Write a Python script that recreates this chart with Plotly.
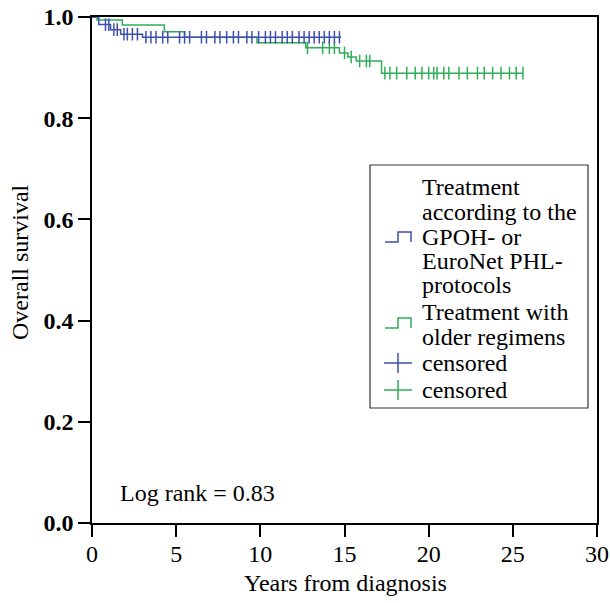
import plotly.graph_objects as go
import numpy as np

# ---- data ----
blue_times = [0.0, 0.4, 1.1, 1.7, 3.0]
blue_surv = [1.0, 0.985, 0.975, 0.966, 0.960]
blue_end = 14.8
blue_censor = [0.8, 1.0, 1.3, 1.5, 1.9, 2.1, 2.4, 2.7, 3.2, 3.5, 3.8, 4.2, 4.5, 5.2, 5.5,
               5.8, 6.5, 6.8, 7.3, 7.6, 8.0, 8.4, 8.7, 9.2, 9.5, 9.9, 10.3, 10.6, 10.9,
               11.3, 11.6, 11.9, 12.3, 12.6, 12.9, 13.2, 13.5, 13.8, 14.1, 14.4, 14.7]

green_times = [0.0, 0.3, 1.8, 4.3, 5.5, 9.8, 12.7, 14.7, 15.2, 15.7, 17.2]
green_surv = [1.0, 0.994, 0.984, 0.971, 0.960, 0.949, 0.939, 0.929, 0.921, 0.913, 0.889]
green_end = 25.6
green_censor = [12.8, 13.7, 14.1, 14.4, 15.0, 15.4, 15.9, 16.3, 16.5, 17.4, 17.7, 18.1, 18.7,
                19.2, 19.6, 20.0, 20.3, 20.5, 20.9, 21.2, 21.8, 22.3, 22.9, 23.3, 23.8,
                24.3, 24.8, 25.2, 25.6]

x_ticks = [0, 5, 10, 15, 20, 25, 30]
y_ticks = [0.0, 0.2, 0.4, 0.6, 0.8, 1.0]
y_tick_labels = ["0.0", "0.2", "0.4", "0.6", "0.8", "1.0"]

legend_lines_1 = ["Treatment", "according to the", "GPOH- or", "EuroNet PHL-", "protocols"]
legend_lines_2 = ["Treatment with", "older regimens"]
censor_label = "censored"
log_rank_text = "Log rank = 0.83"

BLUE = "#3e4fae"
GREEN = "#2fae55"
FONT = "Liberation Serif"
FS = 24

def step_xy(times, surv, end):
    return list(times) + [end], list(surv) + [surv[-1]]

def surv_at(times, surv, t):
    idx = np.searchsorted(times, t, side="right") - 1
    return surv[idx]

fig = go.Figure()
bx, by = step_xy(blue_times, blue_surv, blue_end)
gx, gy = step_xy(green_times, green_surv, green_end)
fig.add_trace(go.Scatter(x=gx, y=gy, mode="lines", line=dict(color=GREEN, width=1.5, shape="hv"),
                         showlegend=False, hoverinfo="skip"))
fig.add_trace(go.Scatter(x=green_censor, y=[surv_at(green_times, green_surv, t) for t in green_censor],
                         mode="markers", marker=dict(symbol="line-ns-open", size=9, color=GREEN,
                                                     line=dict(color=GREEN, width=1.5)),
                         showlegend=False))
fig.add_trace(go.Scatter(x=bx, y=by, mode="lines", line=dict(color=BLUE, width=1.5, shape="hv"),
                         showlegend=False, hoverinfo="skip"))
fig.add_trace(go.Scatter(x=blue_censor, y=[surv_at(blue_times, blue_surv, t) for t in blue_censor],
                         mode="markers", marker=dict(symbol="line-ns-open", size=9, color=BLUE,
                                                     line=dict(color=BLUE, width=1.5)),
                         showlegend=False))

L, R, T, B = 92, 13, 17, 80
W, H = 610, 603
PW, PH = W - L - R, H - T - B

def px(x):
    return (x - L) / PW

def py(y):
    return (H - B - y) / PH

shapes = []
annotations = []
# legend box
shapes.append(dict(type="rect", xref="paper", yref="paper", x0=px(370), x1=px(588), y0=py(408), y1=py(165),
                   line=dict(color="#333333", width=1.2), fillcolor="white", layer="above"))
text_y = [187, 212, 237, 261, 285, 312, 337, 363, 390]
all_lines = legend_lines_1 + legend_lines_2 + [censor_label, censor_label]
for yy, txt in zip(text_y, all_lines):
    annotations.append(dict(xref="paper", yref="paper", x=px(420), y=py(yy), text=txt, showarrow=False,
                            xanchor="left", yanchor="middle", font=dict(family=FONT, size=FS, color="black")))

def step_glyph(yc, color):
    x0, x1, x2 = 385, 398, 411
    lo, hi = yc + 5, yc - 5
    path = f"M {px(x0)},{py(lo)} L {px(x1)},{py(lo)} L {px(x1)},{py(hi)} L {px(x2)},{py(hi)} L {px(x2)},{py(lo)}"
    return dict(type="path", xref="paper", yref="paper", path=path, line=dict(color=color, width=1.5), layer="above")

shapes.append(step_glyph(237, BLUE))
shapes.append(step_glyph(323, GREEN))
for yc, col in [(363, BLUE), (390, GREEN)]:
    shapes.append(dict(type="line", xref="paper", yref="paper", x0=px(384), x1=px(412), y0=py(yc), y1=py(yc),
                       line=dict(color=col, width=1.5), layer="above"))
    shapes.append(dict(type="line", xref="paper", yref="paper", x0=px(398), x1=px(398), y0=py(yc - 10), y1=py(yc + 10),
                       line=dict(color=col, width=1.5), layer="above"))

annotations.append(dict(xref="paper", yref="paper", x=px(118), y=py(493), text=log_rank_text, showarrow=False,
                        xanchor="left", yanchor="middle", font=dict(family=FONT, size=FS, color="black")))
annotations.append(dict(xref="paper", yref="paper", x=px(345), y=py(583), text="Years from diagnosis",
                        showarrow=False, xanchor="center", yanchor="middle",
                        font=dict(family=FONT, size=FS, color="black")))
annotations.append(dict(xref="paper", yref="paper", x=px(20), y=py(262), text="Overall survival",
                        showarrow=False, textangle=-90, xanchor="center", yanchor="middle",
                        font=dict(family=FONT, size=FS, color="black")))

fig.update_layout(
    width=W, height=H,
    margin=dict(l=L, r=R, t=T, b=B, autoexpand=False),
    plot_bgcolor="white", paper_bgcolor="white",
    shapes=shapes, annotations=annotations,
    showlegend=False,
)
fig.update_xaxes(range=[0, 30], tickvals=x_ticks, ticks="outside", ticklen=12, tickwidth=1.5,
                 tickcolor="black", showline=True, linecolor="black", linewidth=1.5, mirror=True,
                 showgrid=False, zeroline=False, automargin=False, ticklabelstandoff=-4,
                 tickfont=dict(family=FONT, size=FS, color="black"))
fig.update_yaxes(range=[0, 1.0], tickvals=y_ticks, ticktext=["<b>%s</b>" % t for t in y_tick_labels],
                 ticks="outside", ticklen=12,
                 tickwidth=1.5, tickcolor="black", showline=True, linecolor="black", linewidth=1.5,
                 mirror=True, showgrid=False, zeroline=False, automargin=False,
                 tickfont=dict(family=FONT, size=FS, color="black"))

fig.write_html("out.html", config={"displayModeBar": False},
               post_script="document.body.style.margin='0';document.body.style.overflow='hidden';")
